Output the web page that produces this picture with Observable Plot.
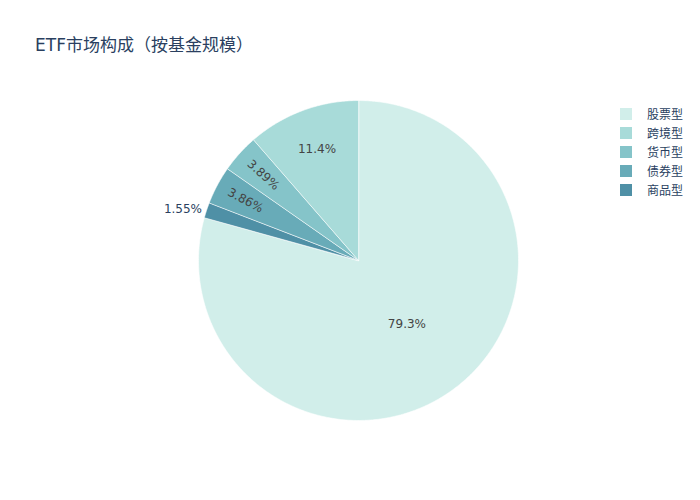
<!DOCTYPE html>
<html><head><meta charset="utf-8">
<script src="https://cdn.jsdelivr.net/npm/d3@7"></script>
<script src="https://cdn.jsdelivr.net/npm/@observablehq/plot@0.6"></script>
<style>
body{margin:0;background:#fff;font-family:"DejaVu Sans","Noto Sans CJK SC",sans-serif;}
#wrap{position:relative;width:700px;height:500px;}
#title{position:absolute;left:35px;top:31px;font-size:17px;color:#2a3f5f;white-space:nowrap;}
#legend{position:absolute;left:620px;top:104px;font-size:12px;color:#2a3f5f;}
.li{display:flex;align-items:center;height:19px;}
.sw{width:12px;height:12px;margin-right:15px;}
#chart{position:absolute;left:0;top:0;}
</style></head>
<body><div id="wrap"><div id="chart"></div><div id="title">ETF市场构成（按基金规模）</div><div id="legend"></div></div>
<script>
const categories = ["股票型","跨境型","货币型","债券型","商品型"];
const values = [79.3, 11.4, 3.89, 3.86, 1.55];
const labels = ["79.3%","11.4%","3.89%","3.86%","1.55%"];
const colors = ["#d1eeea","#a8dbd9","#85c4c9","#68abb8","#4f90a6"];
// drawing order clockwise from 12 o'clock
const drawOrder = ["股票型","商品型","债券型","货币型","跨境型"];

const total = d3.sum(values);
const slices = [];
let acc = 0;
for (const c of drawOrder) {
  const i = categories.indexOf(c);
  const a0 = acc / total * 2 * Math.PI;
  acc += values[i];
  const a1 = acc / total * 2 * Math.PI;
  slices.push({cat: c, label: labels[i], a0, a1, frac: values[i] / total});
}
const poly = [];
for (const s of slices) {
  poly.push({cat: s.cat, x: 0, y: 0});
  const n = Math.max(2, Math.ceil((s.a1 - s.a0) / 0.01));
  for (let k = 0; k <= n; k++) {
    const a = s.a0 + (s.a1 - s.a0) * k / n;
    poly.push({cat: s.cat, x: Math.sin(a), y: Math.cos(a)});
  }
}
const labelR = {"股票型":0.5,"跨境型":0.74,"货币型":0.8,"债券型":0.8};
const inside = [], outside = [];
for (const s of slices) {
  const m = (s.a0 + s.a1) / 2;
  if (labelR[s.cat] !== undefined) {
    const r = labelR[s.cat];
    const rot = s.frac < 0.06 ? (Math.atan2(-Math.cos(m), Math.sin(m)) * 180 / Math.PI + 180) % 180 : 0;
    inside.push({x: r * Math.sin(m), y: r * Math.cos(m), text: s.label, rot});
  } else {
    outside.push({x: 1.03 * Math.sin(m), y: 1.03 * Math.cos(m), text: s.label});
  }
}

const plot = Plot.plot({
  width: 700, height: 500, margin: 0,
  x: {domain: [-1, 1], range: [198, 518], axis: null},
  y: {domain: [-1, 1], range: [420, 100], axis: null},
  color: {domain: categories, range: colors},
  style: {fontFamily: '"DejaVu Sans","Noto Sans CJK SC",sans-serif', background: "#fff"},
  marks: [
    Plot.line(poly, {x: "x", y: "y", z: "cat", fill: "cat", stroke: "#fff", strokeWidth: 0.6, curve: "linear-closed"}),
    Plot.text(inside, {x: "x", y: "y", text: "text", rotate: "rot", fill: "#444", fontSize: 12}),
    Plot.text(outside, {x: "x", y: "y", text: "text", textAnchor: "end", fill: "#2a3f5f", fontSize: 12})
  ]
});
document.getElementById("chart").appendChild(plot);
const lg = document.getElementById("legend");
categories.forEach((c, i) => {
  const d = document.createElement("div"); d.className = "li";
  d.innerHTML = `<div class="sw" style="background:${colors[i]}"></div><span>${c}</span>`;
  lg.appendChild(d);
});
</script></body></html>
